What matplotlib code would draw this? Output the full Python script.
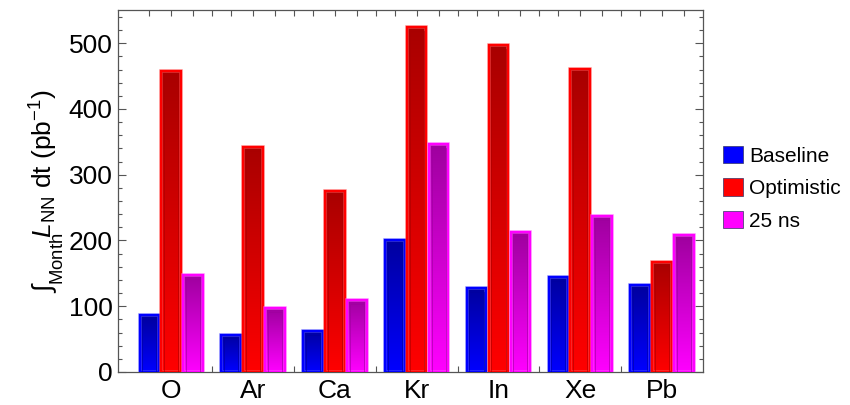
import numpy as np
import matplotlib
matplotlib.use("Agg")
import matplotlib.pyplot as plt
from matplotlib.patches import Patch
from matplotlib.ticker import MultipleLocator, FixedLocator

plt.rcParams['font.family'] = ['Liberation Sans', 'DejaVu Sans']
plt.rcParams['mathtext.fontset'] = 'custom'
plt.rcParams['mathtext.rm'] = 'Liberation Sans'
plt.rcParams['mathtext.it'] = 'Liberation Sans:italic'
plt.rcParams['mathtext.sf'] = 'Liberation Sans'

elements = ["O", "Ar", "Ca", "Kr", "In", "Xe", "Pb"]
series_names = ["Baseline", "Optimistic", "25 ns"]
baseline = [86, 57, 63, 201, 127, 145, 132]
optimistic = [458, 342, 275, 525, 497, 461, 167]
ns25 = [147, 97, 110, 346, 213, 237, 208]

# (top colour, bottom colour) of the gradient fill
colors = [((0.0, 0.0, 0.62), (0.0, 0.0, 1.0)),
          ((0.66, 0.0, 0.0), (1.0, 0.0, 0.0)),
          ((0.62, 0.0, 0.62), (1.0, 0.0, 1.0))]
solid = ["#0000ff", "#ff0000", "#ff00ff"]


def gradient_bar(ax, x, h, w, top, bottom):
    grad = np.linspace(0, 1, 256)[:, None]
    top = np.array(top)
    bottom = np.array(bottom)
    img = top[None, None, :] * (1 - grad[:, :, None]) + bottom[None, None, :] * grad[:, :, None]
    bar = ax.bar(x, h, w, facecolor="none", edgecolor="none", zorder=2)[0]
    im = ax.imshow(img, extent=(x - w / 2, x + w / 2, 0, h), origin="upper",
                   aspect="auto", zorder=2, interpolation="bilinear")
    im.set_clip_path(bar)
    lite = tuple(min(1, c + 0.35) for c in bottom)
    ax.bar(x, h, w, facecolor="none", edgecolor=lite, linewidth=2.6, zorder=3, alpha=0.6)
    ax.bar(x, h, w, facecolor="none", edgecolor=tuple(bottom), linewidth=1.6, zorder=3)
    ax.bar(x, h - 6, w * 0.72, bottom=0, facecolor="none",
           edgecolor=tuple(top), linewidth=0.6, zorder=3, alpha=0.7)


fig = plt.figure(figsize=(8.5, 4.05), dpi=100)
ax = fig.add_axes([0.139, 0.0815, 0.688, 0.893])

width = 0.24
offset = 0.268
xs = np.arange(len(elements))
for k, vals in enumerate([baseline, optimistic, ns25]):
    for i, v in enumerate(vals):
        gradient_bar(ax, xs[i] + (k - 1) * offset, v, width, colors[k][0], colors[k][1])

ax.set_xlim(-0.65, 6.5)
ax.set_ylim(0, 550)

ax.yaxis.set_major_locator(MultipleLocator(100))
ax.yaxis.set_minor_locator(MultipleLocator(20))
ax.set_xticks(xs)
ax.set_xticklabels(elements, fontsize=19)
bar_pos = np.concatenate([xs - offset, xs + offset, np.arange(len(elements) - 1) + 0.5])
ax.xaxis.set_minor_locator(FixedLocator(bar_pos))
ax.tick_params(axis="both", which="both", direction="in", top=True, right=True,
               color="#555555", width=0.8)
ax.tick_params(axis="y", which="major", length=6, labelsize=19, pad=4)
ax.tick_params(axis="y", which="minor", length=3)
ax.tick_params(axis="x", which="major", length=4, pad=5)
ax.tick_params(axis="x", which="minor", length=4)
for s in ax.spines.values():
    s.set_color("#555555")
    s.set_linewidth(0.9)

ax.set_ylabel(r"$\int_{\mathrm{Month}}\!\mathit{L}_{\mathrm{NN}}$ dt (pb$^{-1}$)", fontsize=19, labelpad=2)

handles = [Patch(facecolor=solid[k], edgecolor="#333366", linewidth=0.5, label=series_names[k])
           for k in range(3)]
fig.legend(handles=handles, loc="upper left", bbox_to_anchor=(0.841, 0.66), frameon=False,
           fontsize=15, handlelength=0.95, handleheight=0.9, handletextpad=0.3,
           labelspacing=0.6, borderaxespad=0)

fig.savefig("out.png", dpi=100)
